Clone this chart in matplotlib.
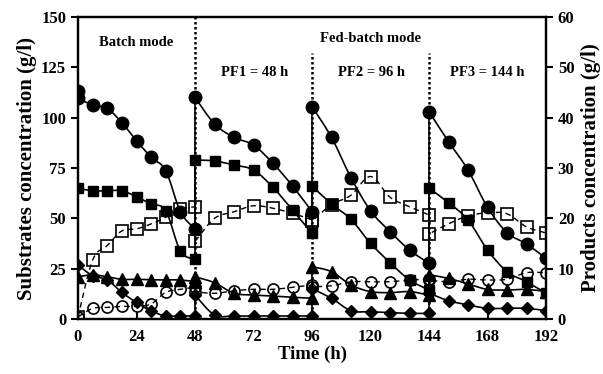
import matplotlib
matplotlib.use("Agg")
import matplotlib.pyplot as plt
from matplotlib.path import Path
from matplotlib.patches import PathPatch

plt.rcParams['font.family'] = ['Liberation Serif', 'DejaVu Serif']
plt.rcParams['font.weight'] = 'bold'

# sampling times (h); repeated time = value before / after feeding
t = [0, 6, 12, 18, 24, 30, 36, 42, 48,
     48, 56, 64, 72, 80, 88, 96,
     96, 104, 112, 120, 128, 136, 144,
     144, 152, 160, 168, 176, 184, 192]
t_circle = [0] + t

# substrates (left axis, g/l)
circle = [113.0, 109.6, 106.3, 104.6, 97.5, 88.6, 80.3, 73.7, 53.3, 44.7,
          110.1, 96.9, 90.2, 86.4, 77.3, 66.1, 53.3,
          105.5, 90.2, 70.2, 53.8, 43.4, 34.3, 27.6,
          103.0, 88.1, 74.0, 55.5, 42.9, 37.3, 30.1]
square = [64.9, 63.7, 63.7, 63.7, 60.7, 57.1, 53.8, 33.8, 29.6,
          79.0, 78.5, 76.5, 74.0, 65.4, 54.1, 42.6,
          66.1, 57.1, 49.5, 37.6, 28.0, 19.4, 14.4,
          64.9, 57.8, 49.2, 34.3, 23.5, 18.5, 12.8]
triangle = [21.0, 21.9, 21.0, 19.7, 19.7, 19.5, 19.4, 19.4, 18.5,
            21.0, 18.0, 12.8, 11.9, 11.4, 10.8, 10.3,
            26.0, 23.5, 16.9, 13.6, 13.1, 13.6, 11.9,
            21.9, 20.2, 17.4, 14.7, 14.4, 14.7, 13.6]
diamond = [26.8, 21.5, 19.4, 13.2, 8.2, 4.0, 1.5, 1.5, 1.5,
           11.9, 2.0, 1.5, 1.5, 1.5, 1.5, 1.5,
           15.0, 10.3, 4.1, 3.6, 3.2, 2.8, 2.8,
           12.8, 9.1, 7.0, 5.3, 5.3, 5.3, 4.1]

# products (right axis, g/l)
open_square = [0.4, 11.7, 14.6, 17.5, 17.9, 18.9, 20.2, 21.8, 22.3,
               15.4, 20.0, 21.3, 22.5, 22.0, 21.0, 19.7,
               19.5, 22.7, 24.6, 28.3, 24.2, 22.3, 20.7,
               16.9, 18.9, 20.5, 21.1, 20.9, 18.3, 17.1]
open_circle = [0.4, 2.1, 2.3, 2.5, 2.5, 3.0, 5.3, 5.9, 6.3,
               5.4, 5.1, 5.6, 5.9, 5.9, 6.3, 6.75,
               6.4, 6.6, 7.4, 7.4, 7.4, 7.75, 7.9,
               7.75, 7.4, 7.9, 7.75, 7.9, 9.2, 9.2]

feeds = [48, 96, 144]
xticks = [0, 24, 48, 72, 96, 120, 144, 168, 192]


def smooth_path(x, y):
    # Excel-like smoothed line, straight where two points share a time
    verts = [(x[0], y[0])]
    codes = [Path.MOVETO]
    n = len(x)
    for i in range(n - 1):
        if x[i + 1] == x[i]:
            verts.append((x[i + 1], y[i + 1]))
            codes.append(Path.LINETO)
            continue
        a = i - 1 if i > 0 and x[i - 1] != x[i] else i
        b = i + 2 if i + 2 < n and x[i + 2] != x[i + 1] else i + 1
        c1 = (x[i] + (x[i + 1] - x[a]) / 6, y[i] + (y[i + 1] - y[a]) / 6)
        c2 = (x[i + 1] - (x[b] - x[i]) / 6, y[i + 1] - (y[b] - y[i]) / 6)
        verts += [c1, c2, (x[i + 1], y[i + 1])]
        codes += [Path.CURVE4] * 3
    return Path(verts, codes)


fig = plt.figure(figsize=(6.03, 3.74), dpi=100)
ax = fig.add_axes([78 / 603, 55 / 374, 468 / 603, 302 / 374])
ax2 = ax.twinx()

for f in feeds:
    top = 150 if f == 48 else 132
    ax.plot([f, f], [0, top], color='black', ls=(0, (1, 1)), lw=1.8, zorder=1)


def series(axis, x, y, marker, ms, filled, dashed):
    ls = (0, (4, 3)) if dashed else '-'
    axis.add_patch(PathPatch(smooth_path(x, y), fill=False, ec='black',
                             lw=1.0 if dashed else 1.2, ls=ls, zorder=2))
    axis.plot(x, y, ls='none', marker=marker, ms=ms,
              mfc='black' if filled else 'none', mec='black',
              mew=1.0 if filled else 1.2, zorder=3)


series(ax, t_circle, circle, 'o', 9, True, False)
series(ax, t, square, 's', 7.5, True, False)
series(ax, t, triangle, '^', 8, True, False)
series(ax, t, diamond, 'D', 6, True, False)
series(ax2, t, open_square, 's', 8, False, True)
series(ax2, t, open_circle, 'o', 8, False, True)

ax.set_xlim(0, 192)
ax.set_ylim(0, 150)
ax2.set_ylim(0, 60)
ax.set_xticks(xticks)
ax.set_yticks(range(0, 151, 25))
ax2.set_yticks(range(0, 61, 10))

for a in (ax, ax2):
    for s in a.spines.values():
        s.set_linewidth(1.6)
ax.tick_params(axis='x', direction='in', length=5, width=1.5, labelsize=12, pad=7)
ax.tick_params(axis='y', direction='out', length=5, width=1.5, labelsize=12)
ax2.tick_params(axis='y', direction='out', length=5, width=1.5, labelsize=12)

ax.set_xlabel('Time (h)', fontsize=13.5, fontweight='bold', labelpad=1)
ax.set_ylabel('Substrates concentration (g/l)', fontsize=15, fontweight='bold', labelpad=3)
ax2.set_ylabel('Products concentration (g/l)', fontsize=15, fontweight='bold',
               rotation=90, labelpad=5)

ax.text(24, 137.5, 'Batch mode', ha='center', va='center', fontsize=10.5)
ax.text(120, 139.5, 'Fed-batch mode', ha='center', va='center', fontsize=10.5)
ax.text(72.5, 122.5, 'PF1 = 48 h', ha='center', va='center', fontsize=10.5)
ax.text(120.5, 122.5, 'PF2 = 96 h', ha='center', va='center', fontsize=10.5)
ax.text(168, 122.5, 'PF3 = 144 h', ha='center', va='center', fontsize=10.5)

fig.savefig('out.png', dpi=100)
